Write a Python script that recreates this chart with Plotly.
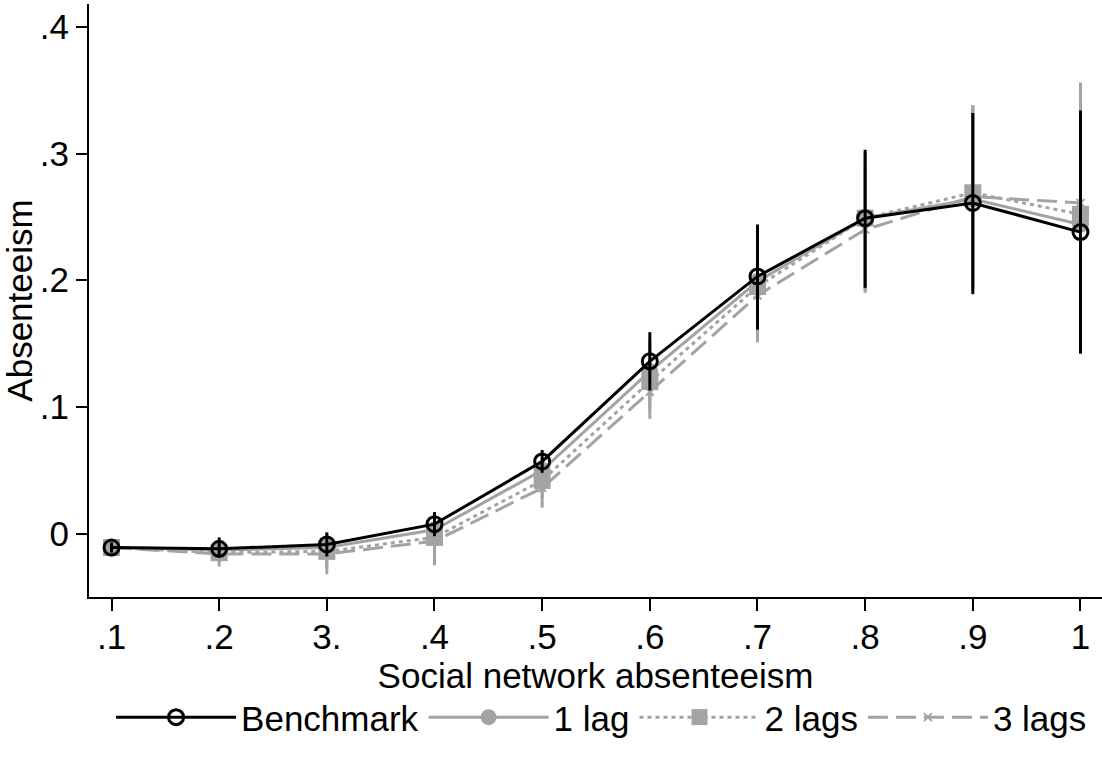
import plotly.graph_objects as go

x_vals = [0.1, 0.2, 0.3, 0.4, 0.5, 0.6, 0.7, 0.8, 0.9, 1.0]
x_ticktext = [".1", ".2", "3.", ".4", ".5", ".6", ".7", ".8", ".9", "1"]
y_tickvals = [0, 0.1, 0.2, 0.3, 0.4]
y_ticktext = ["0", ".1", ".2", ".3", ".4"]

bench = [-0.011, -0.012, -0.0085, 0.0075, 0.057, 0.136, 0.203, 0.249, 0.261, 0.238]
bench_lo = [-0.015, -0.019, -0.018, -0.002, 0.048, 0.113, 0.161, 0.194, 0.189, 0.142]
bench_hi = [-0.007, -0.003, 0.001, 0.017, 0.066, 0.159, 0.244, 0.303, 0.332, 0.334]

lag1 = [-0.011, -0.013, -0.011, 0.003, 0.050, 0.128, 0.199, 0.249, 0.264, 0.244]
lag1_lo = [-0.015, -0.021, -0.021, -0.007, 0.040, 0.104, 0.158, 0.193, 0.192, 0.148]
lag1_hi = [-0.007, -0.005, -0.001, 0.013, 0.060, 0.152, 0.240, 0.300, 0.336, 0.340]

lag2 = [-0.011, -0.015, -0.014, -0.003, 0.042, 0.120, 0.195, 0.249, 0.269, 0.252]
lag2_lo = [-0.016, -0.023, -0.027, -0.017, 0.028, 0.098, 0.155, 0.192, 0.198, 0.152]
lag2_hi = [-0.006, -0.007, -0.001, 0.011, 0.056, 0.142, 0.235, 0.301, 0.338, 0.352]

lag3 = [-0.011, -0.016, -0.016, -0.006, 0.036, 0.112, 0.188, 0.240, 0.266, 0.261]
lag3_lo = [-0.018, -0.026, -0.032, -0.025, 0.0205, 0.0906, 0.151, 0.190, 0.194, 0.166]
lag3_hi = [-0.004, -0.006, 0.000, 0.013, 0.052, 0.134, 0.225, 0.290, 0.338, 0.356]

GRAY = "#a3a3a3"
FONT = "Liberation Sans, Arial, Helvetica, sans-serif"


def err(y, lo, hi, color):
    return dict(type="data", symmetric=False,
                array=[h - v for h, v in zip(hi, y)],
                arrayminus=[v - l for v, l in zip(y, lo)],
                color=color, thickness=3, width=0)


fig = go.Figure()

fig.add_trace(go.Scatter(
    x=x_vals, y=lag3, name="3 lags", mode="lines+markers", legendrank=4,
    line=dict(color=GRAY, width=3, dash="20px,8px"),
    marker=dict(symbol="x-thin", size=8, color=GRAY, line=dict(color=GRAY, width=2)),
    error_y=err(lag3, lag3_lo, lag3_hi, GRAY)))

fig.add_trace(go.Scatter(
    x=x_vals, y=lag2, name="2 lags", mode="lines+markers", legendrank=3,
    line=dict(color=GRAY, width=3, dash="4px,4px"),
    marker=dict(symbol="square", size=17, color=GRAY),
    error_y=err(lag2, lag2_lo, lag2_hi, GRAY)))

fig.add_trace(go.Scatter(
    x=x_vals, y=lag1, name="1 lag", mode="lines+markers", legendrank=2,
    line=dict(color=GRAY, width=3),
    marker=dict(symbol="circle", size=17, color=GRAY),
    error_y=err(lag1, lag1_lo, lag1_hi, GRAY)))

fig.add_trace(go.Scatter(
    x=x_vals, y=bench, name="Benchmark", mode="lines+markers", legendrank=1,
    line=dict(color="black", width=3),
    marker=dict(symbol="circle-open", size=15, color="black", line=dict(color="black", width=3)),
    error_y=err(bench, bench_lo, bench_hi, "black")))

fig.update_layout(
    width=1102, height=769,
    margin=dict(l=89, r=0, t=4, b=172),
    paper_bgcolor="white", plot_bgcolor="white",
    font=dict(family=FONT, size=35, color="black"),
    showlegend=True,
    legend=dict(orientation="h", x=0.506, xanchor="center", y=-0.203, yanchor="middle",
                font=dict(size=35), itemwidth=120, traceorder="normal",
                bgcolor="rgba(0,0,0,0)"),
    xaxis=dict(range=[0.0791, 1.02], tickvals=x_vals, ticktext=x_ticktext,
               showgrid=False, zeroline=False, showline=True, linecolor="black", linewidth=2,
               ticks="outside", ticklen=12, tickwidth=2, tickcolor="black",
               tickfont=dict(size=35), ticklabelstandoff=-4,
               title=dict(text="Social network absenteeism", font=dict(size=35), standoff=0)),
    yaxis=dict(range=[-0.050, 0.418], tickvals=y_tickvals, ticktext=y_ticktext,
               showgrid=False, zeroline=False, showline=True, linecolor="black", linewidth=2,
               ticks="outside", ticklen=11, tickwidth=2, tickcolor="black",
               tickfont=dict(size=35),
               title=dict(text="Absenteeism", font=dict(size=35), standoff=6)),
)

fig.write_html("out.html")
